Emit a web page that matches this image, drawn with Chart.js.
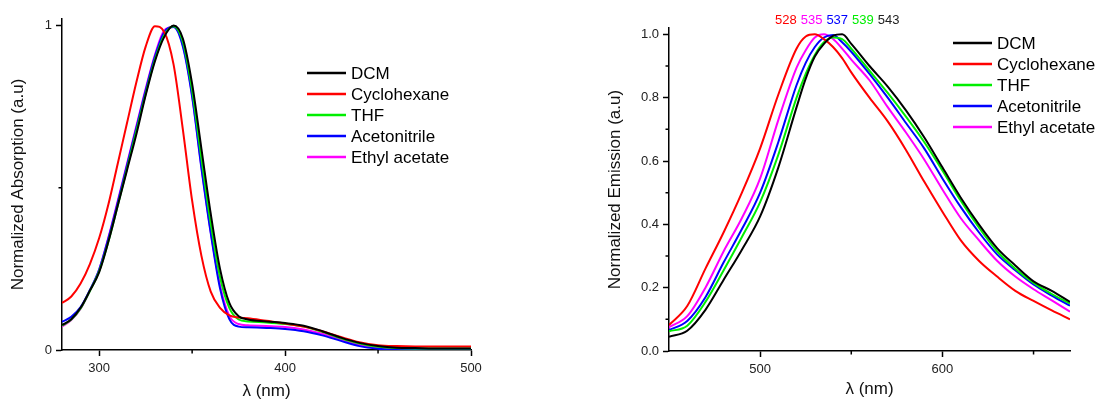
<!DOCTYPE html>
<html>
<head>
<meta charset="utf-8">
<script src="https://cdn.jsdelivr.net/npm/chart.js@4.4.1/dist/chart.umd.min.js"></script>
<style>
  body { margin: 0; background: #fff; }
  canvas { position: absolute; top: 0; }
</style>
</head>
<body>
<canvas id="abs" width="548" height="403" style="left:0"></canvas>
<canvas id="emi" width="549" height="403" style="left:548px"></canvas>
<script>
// solvents, same order in both panels
const solvents = ['DCM', 'Cyclohexane', 'THF', 'Acetonitrile', 'Ethyl acetate'];
const colors = ['#000000', '#ff0000', '#00ee00', '#0000ff', '#ff00ff'];

// absorption (left panel)
const absWl = [280, 285, 290, 295, 300, 305, 310, 315, 320, 325, 330, 335, 340, 345, 350, 355, 360, 365, 370, 375, 380, 390, 400, 410, 420, 430, 440, 450, 460, 470, 480, 490, 500];
const absDCM = [0.077, 0.095, 0.13, 0.183, 0.24, 0.335, 0.445, 0.555, 0.665, 0.785, 0.89, 0.965, 1.0, 0.96, 0.82, 0.62, 0.42, 0.25, 0.145, 0.104, 0.094, 0.088, 0.083, 0.075, 0.058, 0.038, 0.022, 0.012, 0.007, 0.006, 0.005, 0.005, 0.005];
const absCyclohexane = [0.145, 0.165, 0.205, 0.265, 0.345, 0.45, 0.575, 0.70, 0.825, 0.935, 0.998, 0.98, 0.88, 0.68, 0.46, 0.29, 0.18, 0.13, 0.107, 0.10, 0.098, 0.09, 0.082, 0.072, 0.058, 0.04, 0.024, 0.015, 0.012, 0.011, 0.011, 0.011, 0.011];
const absTHF = [0.075, 0.094, 0.128, 0.182, 0.243, 0.335, 0.445, 0.56, 0.675, 0.79, 0.895, 0.97, 0.998, 0.95, 0.80, 0.59, 0.39, 0.225, 0.13, 0.094, 0.088, 0.085, 0.08, 0.072, 0.056, 0.036, 0.02, 0.01, 0.006, 0.005, 0.005, 0.005, 0.005];
const absAcetonitrile = [0.087, 0.102, 0.132, 0.185, 0.248, 0.345, 0.455, 0.57, 0.685, 0.80, 0.905, 0.98, 0.995, 0.935, 0.78, 0.56, 0.36, 0.19, 0.095, 0.072, 0.07, 0.068, 0.065, 0.058, 0.045, 0.028, 0.012, 0.004, 0.001, 0, 0, 0, 0];
const absEthylAcetate = [0.072, 0.092, 0.127, 0.183, 0.248, 0.348, 0.46, 0.575, 0.69, 0.805, 0.91, 0.985, 0.995, 0.94, 0.785, 0.565, 0.365, 0.20, 0.105, 0.08, 0.076, 0.074, 0.071, 0.063, 0.05, 0.032, 0.016, 0.006, 0.002, 0.001, 0.001, 0.001, 0.001];

// emission (right panel)
const emWl = [450, 460, 470, 480, 490, 500, 510, 520, 525, 530, 535, 540, 545, 550, 560, 570, 580, 590, 600, 610, 620, 630, 640, 650, 660, 670];
const emDCM = [0.045, 0.064, 0.13, 0.225, 0.32, 0.425, 0.58, 0.77, 0.86, 0.93, 0.97, 0.995, 1.0, 0.97, 0.90, 0.835, 0.76, 0.675, 0.58, 0.485, 0.40, 0.325, 0.27, 0.22, 0.19, 0.155];
const emCyclohexane = [0.082, 0.142, 0.26, 0.375, 0.50, 0.64, 0.81, 0.955, 0.993, 1.0, 0.985, 0.96, 0.925, 0.88, 0.80, 0.725, 0.635, 0.535, 0.44, 0.35, 0.285, 0.235, 0.19, 0.158, 0.128, 0.10];
const emTHF = [0.062, 0.08, 0.155, 0.255, 0.36, 0.47, 0.62, 0.80, 0.875, 0.935, 0.975, 0.99, 0.985, 0.955, 0.885, 0.815, 0.74, 0.66, 0.57, 0.475, 0.39, 0.315, 0.26, 0.215, 0.18, 0.15];
const emAcetonitrile = [0.066, 0.095, 0.17, 0.28, 0.385, 0.50, 0.66, 0.84, 0.91, 0.96, 0.99, 0.998, 0.975, 0.945, 0.875, 0.80, 0.72, 0.64, 0.545, 0.455, 0.375, 0.305, 0.255, 0.21, 0.175, 0.143];
const emEthylAcetate = [0.075, 0.11, 0.20, 0.315, 0.42, 0.545, 0.73, 0.895, 0.95, 0.99, 1.0, 0.985, 0.955, 0.92, 0.855, 0.77, 0.69, 0.605, 0.51, 0.42, 0.35, 0.285, 0.235, 0.195, 0.16, 0.124];

// emission maxima written above the right panel
const peakLabels = ['528', '535', '537', '539', '543'];
const peakColors = ['#ff0000', '#ff00ff', '#0000ff', '#00ee00', '#222222'];

// ticks
const absXTicks = [300, 400, 500], absXMinor = [350, 450];
const absYTicks = [0, 1], absYMinor = [0.5];
const emXTicks = [500, 600], emXMinor = [550, 650];
const emYTicks = [0, 0.2, 0.4, 0.6, 0.8, 1.0], emYMinor = [0.1, 0.3, 0.5, 0.7, 0.9];

const FONT = '"Liberation Sans", Arial, sans-serif';
Chart.defaults.font.family = FONT;
Chart.defaults.color = '#222';

// legend, minor ticks and peak labels drawn on top
const extras = {
  id: 'extras',
  afterDraw(chart, args, o) {
    const ctx = chart.ctx, area = chart.chartArea;
    const xs = chart.scales.x, ys = chart.scales.y;
    ctx.save();
    ctx.strokeStyle = '#000';
    ctx.lineWidth = 1.5;
    ctx.beginPath();
    o.xMinor.forEach(v => {
      const px = xs.getPixelForValue(v);
      ctx.moveTo(px, area.bottom); ctx.lineTo(px, area.bottom + 3.5);
    });
    o.yMinor.forEach(v => {
      const py = ys.getPixelForValue(v);
      ctx.moveTo(area.left, py); ctx.lineTo(area.left - 3.5, py);
    });
    ctx.stroke();

    ctx.font = '17px ' + FONT;
    ctx.textBaseline = 'middle';
    ctx.textAlign = 'left';
    solvents.forEach((s, i) => {
      const y = o.legendY + i * 21;
      ctx.strokeStyle = colors[i];
      ctx.lineWidth = 2.5;
      ctx.beginPath();
      ctx.moveTo(o.legendX, y); ctx.lineTo(o.legendX + 39, y);
      ctx.stroke();
      ctx.fillStyle = '#000';
      ctx.fillText(s, o.legendX + 44, y + 1);
    });

    if (o.peaks) {
      ctx.font = '13px ' + FONT;
      let x = o.peaks.x;
      peakLabels.forEach((t, i) => {
        ctx.fillStyle = peakColors[i];
        ctx.fillText(t, x, o.peaks.y);
        x += ctx.measureText(t).width + 4;
      });
    }
    ctx.restore();
  }
};

function makeChart(id, wl, series, cfg) {
  const setTicks = list => scale => { scale.ticks = list.map(v => ({ value: v })); };
  return new Chart(document.getElementById(id), {
    type: 'line',
    data: {
      labels: wl,
      datasets: series.map((d, i) => ({
        label: solvents[i],
        data: d.map((y, j) => ({ x: wl[j], y })),
        borderColor: colors[i],
        borderWidth: 2,
        pointRadius: 0,
        cubicInterpolationMode: 'monotone',
        fill: false
      }))
    },
    options: {
      responsive: false,
      animation: false,
      events: [],
      layout: { padding: { left: 0, right: cfg.padRight, top: cfg.padTop, bottom: 0 } },
      plugins: {
        legend: { display: false },
        tooltip: { enabled: false },
        extras: cfg.extras
      },
      scales: {
        x: {
          type: 'linear',
          min: cfg.xMin, max: cfg.xMax,
          afterBuildTicks: setTicks(cfg.xTicks),
          afterFit: s => { s.height = cfg.xHeight; },
          grid: { drawOnChartArea: false, drawTicks: true, tickLength: 6, tickWidth: 1.5, color: '#000' },
          border: { display: true, color: '#000', width: 1.5 },
          ticks: { font: { size: 13 }, padding: 5, color: '#222', maxRotation: 0 },
          title: { display: true, text: 'λ (nm)', font: { size: 17 }, color: '#111', padding: { top: 0, bottom: cfg.xTitlePad } }
        },
        y: {
          min: 0, max: 1.02,
          afterBuildTicks: setTicks(cfg.yTicks),
          afterFit: s => { s.width = cfg.yWidth; },
          grid: { drawOnChartArea: false, drawTicks: true, tickLength: 6, tickWidth: 1.5, color: '#000' },
          border: { display: true, color: '#000', width: 1.5 },
          ticks: { font: { size: 13 }, padding: 4, color: '#222', callback: cfg.yFmt },
          title: { display: true, text: cfg.yTitle, font: { size: 17 }, color: '#111', padding: { top: cfg.yTitlePad, bottom: 0 } }
        }
      }
    },
    plugins: [extras]
  });
}

makeChart('abs', absWl, [absDCM, absCyclohexane, absTHF, absAcetonitrile, absEthylAcetate], {
  xMin: 280, xMax: 500, xTicks: absXTicks, yTicks: absYTicks,
  padRight: 77, padTop: 19, xHeight: 53, yWidth: 62,
  xTitlePad: 1, yTitlePad: 8,
  yTitle: 'Normalized Absorption (a.u)',
  yFmt: v => String(v),
  extras: { xMinor: absXMinor, yMinor: absYMinor, legendX: 307, legendY: 73 }
});

makeChart('emi', emWl, [emDCM, emCyclohexane, emTHF, emAcetonitrile, emEthylAcetate], {
  xMin: 450, xMax: 670, xTicks: emXTicks, yTicks: emYTicks,
  padRight: 27, padTop: 28, xHeight: 52, yWidth: 121,
  xTitlePad: 3, yTitlePad: 57,
  yTitle: 'Normalized Emission (a.u)',
  yFmt: v => v.toFixed(1),
  extras: { xMinor: emXMinor, yMinor: emYMinor, legendX: 405, legendY: 43, peaks: { x: 227, y: 20 } }
});
</script>
</body>
</html>
